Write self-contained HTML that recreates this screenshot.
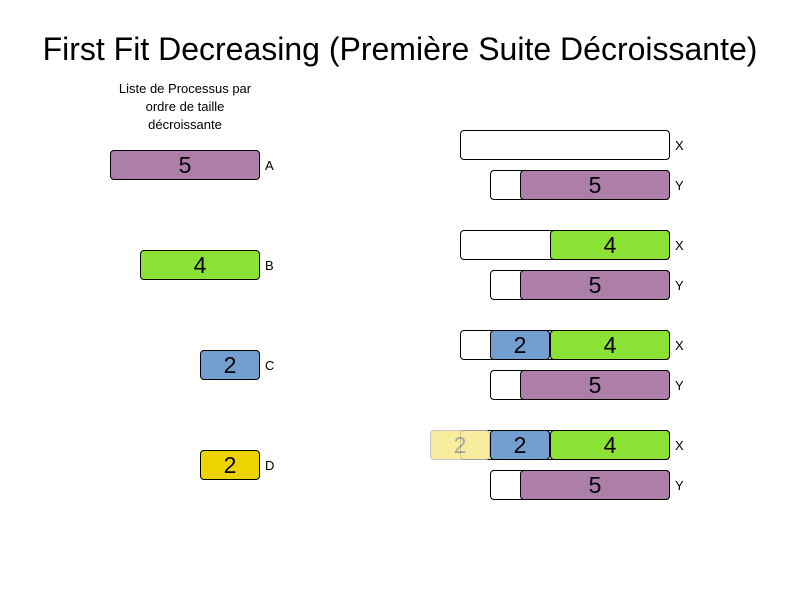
<!DOCTYPE html>
<html><head><meta charset="utf-8"><style>
body{margin:0;width:800px;height:600px;background:#fff;position:relative;font-family:"Liberation Sans",sans-serif;overflow:hidden}
.t{position:absolute;left:0;width:800px;text-align:center;top:31px;font-size:32px;color:#000}
.sub{position:absolute;left:110px;width:150px;text-align:center;top:80px;font-size:13px;line-height:18px}
.b{position:absolute;box-sizing:border-box;border:1px solid #000;border-radius:4px;height:30px;text-align:center;font-size:23px;line-height:29px}
.l{position:absolute;font-size:13px}
</style></head><body>
<div class="t">First Fit Decreasing (Première Suite Décroissante)</div>
<div class="sub">Liste de Processus par<br>ordre de taille<br>décroissante</div>
<script>
const U=30;
const items=['A','B','C','D'];
const sizes=[5,4,2,2];
const colors={5:'#ad7fa8',4:'#8ae234',2:'#729fcf',D:'#edd400'};
const rowsX=[[],[4],[4,2],[4,2,2]];
const rowsY=[[5],[5],[5],[5]];
const capX=7,capY=6,right=669;
function box(x,y,w,txt,bg,name,extra){
 const d=document.createElement('div');d.className='b';
 
 
 d.style.left=x+'px';d.style.top=y+'px';d.style.width=w+'px';d.style.background=bg;d.textContent=txt;
 if(extra)Object.assign(d.style,extra);
 document.body.appendChild(d);return d;}
function lab(x,y,t,name){const d=document.createElement('div');d.className='l';
 
 
 d.style.left=x+'px';d.style.top=y+'px';d.textContent=t;document.body.appendChild(d);}
items.forEach((it,i)=>{const s=sizes[i];const y=150+i*100;
 box(260-s*U,y,s*U,s,i==3?colors.D:colors[s],'item-'+it.toLowerCase());
 lab(265,y+8,it,'item-label-'+it.toLowerCase());});
for(let r=0;r<4;r++){const yx=130+r*100,yy=170+r*100;
 box(right-capX*U+1,yx,capX*U,'','#fff','bin-x-'+(r+1));
 let x=right;
 rowsX[r].forEach((s,j)=>{const last=(r==3&&j==2);
  x-=s*U;box(x+1,yx,s*U,s,last?'#f7ea8f':colors[s],'bin-x-'+(r+1)+'-item-'+(j+1),last?{opacity:0.85,color:'#999',borderColor:'#bbb'}:null);});
 lab(675,yx+8,'X','bin-x-label-'+(r+1));
 box(right-capY*U+1,yy,capY*U,'','#fff','bin-y-'+(r+1));
 x=right;rowsY[r].forEach((s,j)=>{x-=s*U;box(x+1,yy,s*U,s,colors[s],'bin-y-'+(r+1)+'-item-'+(j+1));});
 lab(675,yy+8,'Y','bin-y-label-'+(r+1));}
</script>
</body></html>
